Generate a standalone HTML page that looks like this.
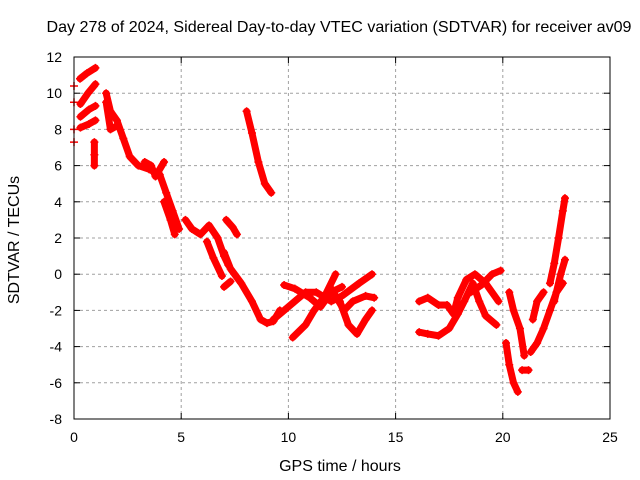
<!DOCTYPE html>
<html><head><meta charset="utf-8"><style>
body{margin:0;background:#fff}
svg{display:block;font-family:"Liberation Sans",sans-serif;font-size:14px}
.big{font-size:16px}
</style></head><body>
<svg id="c" width="640" height="480">
<text class="big" x="339" y="32" text-anchor="middle" textLength="585" lengthAdjust="spacingAndGlyphs">Day 278 of 2024, Sidereal Day-to-day VTEC variation (SDTVAR) for receiver av09</text>
<text class="big" x="340" y="471" text-anchor="middle">GPS time / hours</text>
<text class="big" transform="translate(19,240) rotate(-90)" text-anchor="middle">SDTVAR / TECUs</text>
<g id="grid"></g><g id="marks"></g>
<rect x="74" y="57" width="536" height="362" fill="none" stroke="#000"/>
</svg>
<script>
const xTicks=[0,5,10,15,20,25];
const yTicks=[-8,-6,-4,-2,0,2,4,6,8,10,12];
const traces=[
[[0,10.4]],[[0,9.5]],[[0,8]],[[0,7.3]],
[[0.28,10.8],[0.6,11.1],[1.0,11.4]],
[[0.3,9.4],[0.65,10.0],[1.0,10.5]],
[[0.3,8.7],[0.7,9.1],[1.0,9.3]],
[[0.3,8.1],[0.7,8.3],[1.0,8.5]],
[[0.95,7.3],[0.95,6.6],[0.95,6.0]],
[[1.5,10],[1.7,9.0],[2.0,8.5],[2.3,7.5],[2.6,6.5],[3.0,6.0],[3.5,5.8],[4.0,5.5],[4.3,4.5],[4.6,3.5],[4.9,2.5]],
[[1.5,9.5],[1.7,8.0],[2.0,8.2]],
[[3.3,6.2],[3.6,6.0],[3.8,5.4],[4.2,6.2]],
[[4.2,4.0],[4.5,3.0],[4.7,2.2]],
[[5.2,3.0],[5.5,2.5],[5.9,2.2],[6.3,2.7],[6.7,2.0],[7.0,1.0],[7.2,0.5]],
[[6.2,1.8],[6.5,0.9],[6.9,-0.1]],
[[7.1,3.0],[7.4,2.6],[7.6,2.2]],
[[7.0,1.2],[7.3,0.3],[7.8,-0.5],[8.3,-1.5],[8.7,-2.5],[9.0,-2.7],[9.3,-2.6],[9.6,-2]],
[[7.0,-0.7],[7.3,-0.4]],
[[8.05,9.0],[8.3,7.8],[8.6,6.2],[8.9,5.0],[9.2,4.5]],
[[9.3,-2.5],[9.8,-2],[10.3,-1.5],[10.8,-1.0],[11.3,-1.0],[12,-1.5],[12.5,-1.2],[13.3,-0.5],[13.9,0]],
[[9.8,-0.6],[10.3,-0.8],[11,-1.3],[11.5,-1.8],[12,-1],[12.5,-0.7]],
[[10.2,-3.5],[10.8,-2.8],[11.2,-2],[11.7,-1.2],[12.2,0]],
[[12.4,-1.5],[12.8,-2.8],[13.2,-3.3],[13.6,-2.5],[13.9,-2.0]],
[[12.0,-0.8],[12.6,-2],[13,-1.5],[13.6,-1.2],[14,-1.3]],
[[16.1,-1.5],[16.5,-1.3],[17.0,-1.7],[17.4,-1.7],[17.7,-2.2],[17.9,-1.3],[18.3,-0.3],[18.7,0.0],[19.2,-0.5],[19.8,-1.5]],
[[16.1,-3.2],[16.5,-3.3],[17.0,-3.4],[17.5,-3.0],[17.9,-2.2],[18.2,-1.5],[18.6,-0.5],[18.9,-1.5],[19.2,-2.3],[19.7,-2.8]],
[[18.5,-1.0],[19.0,-0.6],[19.5,0],[19.9,0.2]],
[[20.3,-1.0],[20.5,-2.0],[20.8,-3.0],[21.0,-4.5]],
[[20.15,-3.8],[20.3,-5],[20.5,-6],[20.7,-6.5]],
[[20.9,-5.3],[21.2,-5.3]],
[[21.3,-4.3],[21.6,-3.8],[21.9,-3.0],[22.2,-2],[22.5,-1],[22.8,-0.5]],
[[21.4,-2.5],[21.6,-1.5],[21.9,-1.0]],
[[22.2,-0.5],[22.4,0.6],[22.6,2],[22.8,3.5],[22.9,4.2]],
[[22.4,-1.5],[22.7,0],[22.9,0.8]]
];
const X=h=>74+h*536/25, Y=v=>57+(12-v)*362/20;
const NS="http://www.w3.org/2000/svg";
const g=document.getElementById('grid'), m=document.getElementById('marks');
function mk(p,t,a){const e=document.createElementNS(NS,t);for(const k in a)e.setAttribute(k,a[k]);p.appendChild(e);return e;}
xTicks.forEach(t=>{const x=X(t);
 if(t>0&&t<25){const l=mk(g,'line',{x1:x,y1:57,x2:x,y2:419,stroke:'#a0a0a0','stroke-dasharray':'3,3'});
 
 }
 mk(g,'line',{x1:x,y1:419,x2:x,y2:413,stroke:'#000'});mk(g,'line',{x1:x,y1:57,x2:x,y2:63,stroke:'#000'});
 const tx=mk(g,'text',{x:x,y:442,'text-anchor':'middle'});tx.textContent=t;
 
 });
yTicks.forEach(t=>{const y=Y(t);
 if(t>-8&&t<12){const l=mk(g,'line',{x1:74,y1:y,x2:610,y2:y,stroke:'#a0a0a0','stroke-dasharray':'3,3'});
 
 }
 mk(g,'line',{x1:74,y1:y,x2:80,y2:y,stroke:'#000'});mk(g,'line',{x1:610,y1:y,x2:604,y2:y,stroke:'#000'});
 const tx=mk(g,'text',{x:62,y:y+5,'text-anchor':'end'});tx.textContent=t;
 
 });
traces.forEach(tr=>{
 const gg=mk(m,'g',{});
 
 
 if(tr.length>1)mk(gg,'polyline',{points:tr.map(p=>X(p[0])+','+Y(p[1])).join(' '),fill:'none',stroke:'#f00','stroke-width':7,'stroke-linejoin':'round','stroke-linecap':'round'});
 tr.forEach(p=>{const x=X(p[0]),y=Y(p[1]);
  mk(gg,'path',{d:`M${x-4},${y}H${x+4}M${x},${y-4}V${y+4}`,stroke:'#f00','stroke-width':1.5});});
});
</script>
</body></html>
